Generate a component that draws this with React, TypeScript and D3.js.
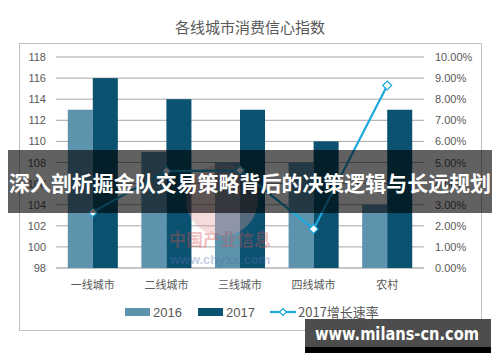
import * as d3 from "d3";

const categories = ["一线城市", "二线城市", "三线城市", "四线城市", "农村"];
const values2016 = [113, 109, 108, 108, 104];
const values2017 = [116, 114, 113, 110, 113];
const growth2017 = [2.65, 4.59, 4.63, 1.85, 8.65];
const leftTicks = [98, 100, 102, 104, 106, 108, 110, 112, 114, 116, 118];
const rightTicks = [0, 1, 2, 3, 4, 5, 6, 7, 8, 9, 10];

const W = 500;
const H = 362;
const C16 = "#5d93ad";
const C17 = "#0a5270";
const CLINE = "#1ea7dc";
const TXT = "#595959";
const numFont = "'Liberation Sans', Arial, sans-serif";
const cjkFont = "'Noto Sans CJK SC', sans-serif";

export default function App() {
  const x = d3.scaleBand().domain(categories).range([56, 424]).paddingInner(0.32).paddingOuter(0.16);
  const sub = d3.scaleBand().domain(["2016", "2017"]).range([0, x.bandwidth()]);
  const y = d3.scaleLinear().domain([98, 118]).range([268, 57]);
  const yr = d3.scaleLinear().domain([0, 10]).range([268, 57]);
  const cx = (c: string) => (x(c) ?? 0) + x.bandwidth() / 2;

  const line = d3
    .line<number>()
    .x((_, i) => cx(categories[i]))
    .y((d) => yr(d));

  const diamond = (px: number, py: number, r: number) =>
    `M${px},${py - r}L${px + r},${py}L${px},${py + r}L${px - r},${py}Z`;

  return (
    <svg width={W} height={H} style={{ position: "fixed", left: 0, top: 0, background: "#fff" }}>
      <rect x={0} y={0} width={W} height={H} fill="#fff" />
      <text x={250} y={33} textAnchor="middle" fontFamily={cjkFont} fontSize={15} fill={TXT}>
        各线城市消费信心指数
      </text>
      <rect x={19.5} y={43.5} width={462} height={287} fill="none" stroke="#bfbfbf" />

      {leftTicks.map((t) => (
        <g key={t}>
          <line x1={56} x2={424} y1={y(t)} y2={y(t)} stroke={t === 98 ? "#8c8c8c" : "#a6a6a6"} strokeWidth={1} />
          <text x={46} y={y(t) + 4} textAnchor="end" fontFamily={numFont} fontSize={11} fill={TXT}>
            {t}
          </text>
        </g>
      ))}
      {rightTicks.map((t) => (
        <text key={t} x={435} y={yr(t) + 4} fontFamily={numFont} fontSize={11} fill={TXT}>
          {t.toFixed(2)}%
        </text>
      ))}

      <g>
        {categories.map((c, i) => (
          <g key={c}>
            <rect x={(x(c) ?? 0) + (sub("2016") ?? 0)} y={y(values2016[i])} width={sub.bandwidth()} height={y(98) - y(values2016[i])} fill={C16} />
            <rect x={(x(c) ?? 0) + (sub("2017") ?? 0)} y={y(values2017[i])} width={sub.bandwidth()} height={y(98) - y(values2017[i])} fill={C17} />
            <text x={cx(c)} y={289} textAnchor="middle" fontFamily={cjkFont} fontSize={11} fill={TXT}>
              {c}
            </text>
          </g>
        ))}
      </g>

      {/* faint source watermark */}
      <g opacity={0.35}>
        <circle cx={222} cy={200} r={36} fill="#e79a9a" />
        <text x={220} y={246} textAnchor="middle" fontFamily={cjkFont} fontWeight="bold" fontSize={17} fill="#d65050">
          中国产业信息
        </text>
        <text x={220} y={264} textAnchor="middle" fontFamily={numFont} fontWeight="bold" fontSize={13} fill="#5a6fb0">
          www.chyxx.com
        </text>
      </g>

      <path d={line(growth2017) ?? ""} fill="none" stroke={CLINE} strokeWidth={2.2} />
      {growth2017.map((g, i) => (
        <path key={i} d={diamond(cx(categories[i]), yr(g), 4.5)} fill="#fff" stroke={CLINE} strokeWidth={1.2} />
      ))}

      {/* legend */}
      <rect x={125} y={308} width={25} height={8} fill={C16} />
      <text x={153} y={317} fontFamily={numFont} fontSize={13} fill={TXT}>2016</text>
      <rect x={198} y={308} width={25} height={8} fill={C17} />
      <text x={226} y={317} fontFamily={numFont} fontSize={13} fill={TXT}>2017</text>
      <line x1={270} x2={296} y1={312} y2={312} stroke={CLINE} strokeWidth={2.2} />
      <path d={diamond(283, 312, 3.5)} fill="#fff" stroke={CLINE} strokeWidth={1.2} />
      <text x={298} y={317} fontFamily={cjkFont} fontSize={13} fill={TXT}>2017增长速率</text>

      {/* overlay banner */}
      <rect x={8} y={150} width={484} height={63} fill="rgba(0,0,0,0.62)" />
      <text x={250} y={191} textAnchor="middle" fontFamily={cjkFont} fontWeight="bold" fontSize={21} fill="#fff" textLength={482} lengthAdjust="spacingAndGlyphs">
        深入剖析掘金队交易策略背后的决策逻辑与长远规划
      </text>

      {/* site watermark */}
      <rect x={305} y={319} width={186} height={34} fill="#4d4d4d" />
      <rect x={305} y={347} width={186} height={6} fill="#000" />
      <text x={397} y={340} textAnchor="middle" fontFamily="'DejaVu Sans', sans-serif" fontWeight="bold" fontSize={17} fill="#fff" textLength={164} lengthAdjust="spacingAndGlyphs">
        www.milans-cn.com
      </text>
    </svg>
  );
}
